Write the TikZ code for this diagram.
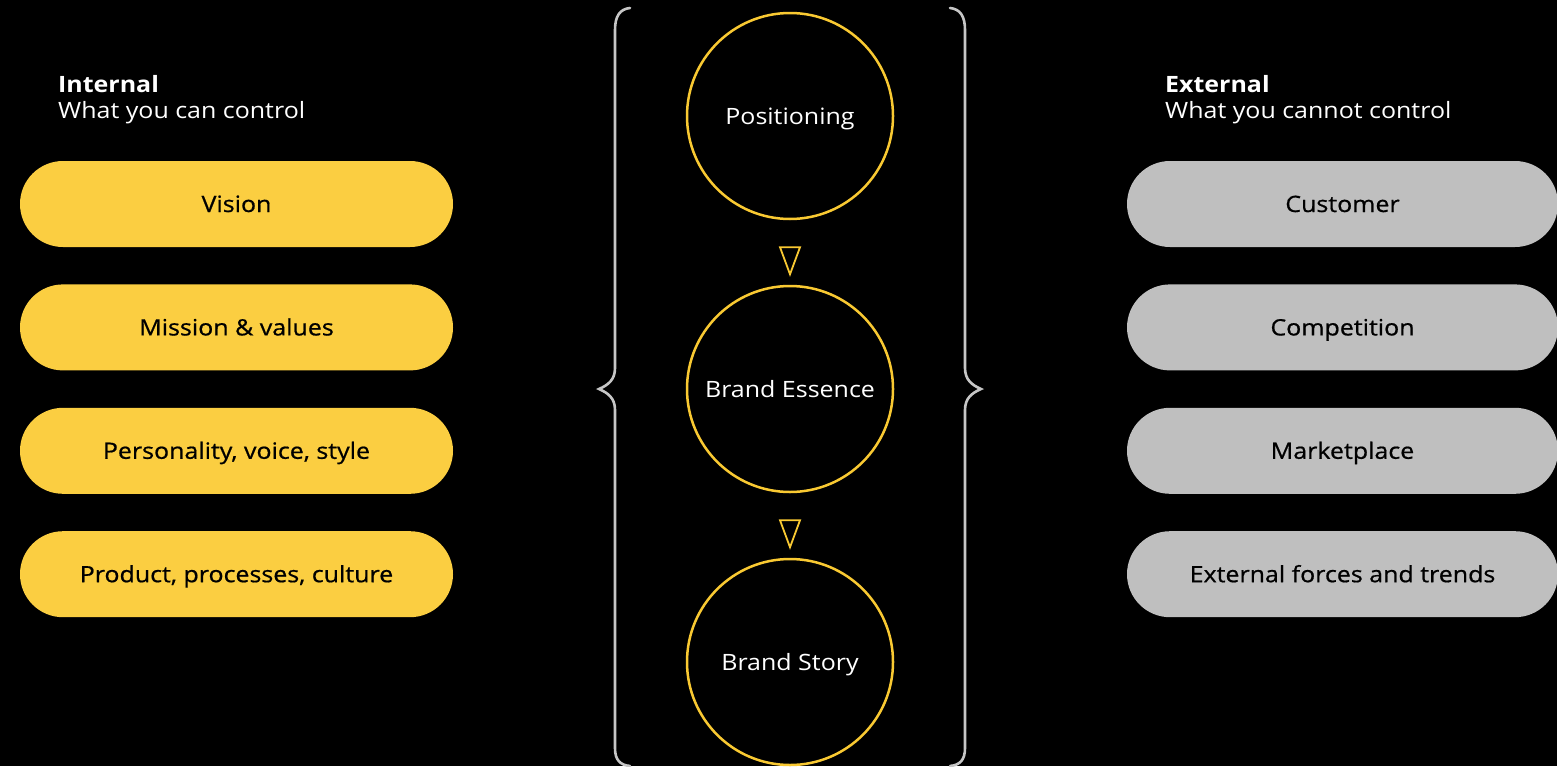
\documentclass[tikz,border=0pt]{standalone}
\usepackage{fontspec}
\setmainfont{Open Sans}[FakeStretch=1.11]
\newfontfamily\pillfont{Open Sans}[FakeStretch=1.11, FakeBold=0.7]
\usetikzlibrary{positioning, calc, shapes}
\definecolor{pillyellow}{HTML}{FBCE41}
\definecolor{pillgray}{HTML}{BFBFBF}
\definecolor{ringyellow}{HTML}{F9C932}
\definecolor{bracegray}{HTML}{C6C6C6}
\tikzset{
    int_pill/.style={rectangle, rounded corners=43pt, minimum width=433pt, minimum height=86pt, fill=pillyellow, text=black, text centered, text height=16pt, text depth=0pt, inner sep=0pt, font=\pillfont\fontsize{22.5}{26}\selectfont},
    ext_pill/.style={int_pill, minimum width=431pt, fill=pillgray},
    ring/.style={circle, draw=ringyellow, line width=2.5pt, minimum size=206pt, text=white, text centered, text height=16pt, text depth=0pt, inner sep=0pt},
    head_text/.style={anchor=north west, align=left, text=white, inner sep=0pt},
    tri/.style={draw=ringyellow, line width=1.8pt, line join=miter},
    brace/.style={draw=bracegray, line width=2.6pt, line cap=round},
}
\begin{document}
\begin{tikzpicture}[x=1pt, y=1pt, node distance=37pt, font=\fontsize{22.5}{26}\selectfont]
      \fill[black] (0,0) rectangle (1557,-766);
      \useasboundingbox (0,0) rectangle (1557,-766);

      % internal side
      \node (internal) [head_text] at (58,-75) {\textbf{Internal}\\What you can control};
      \node (vision) [int_pill] at (236.5,-204) {Vision};
      \node (mission) [int_pill, below = of vision] {Mission \& values};
      \node (personality) [int_pill, below = of mission] {Personality, voice, style};
      \node (product) [int_pill, below = of personality] {Product, processes, culture};

      % external side
      \node (external) [head_text] at (1165,-75) {\textbf{External}\\What you cannot control};
      \node (customer) [ext_pill] at (1342.5,-204) {Customer};
      \node (competition) [ext_pill, below = of customer] {Competition};
      \node (marketplace) [ext_pill, below = of competition] {Marketplace};
      \node (forces) [ext_pill, below = of marketplace] {External forces and trends};

      % brand core
      \node (positioning) [ring] at (790,-116) {Positioning};
      \node (essence) [ring, below = 64.5pt of positioning] {Brand Essence};
      \node (story) [ring, below = 64.5pt of essence] {Brand Story};

      \draw [tri] ($(positioning.south)+(-10,-27)$) -- ++(20,0) -- ++(-10,-27) -- cycle;
      \draw [tri] ($(essence.south)+(-10,-27)$) -- ++(20,0) -- ++(-10,-27) -- cycle;

      \draw [brace] (630,-8) .. controls (620,-9) and (615,-16) .. (615,-30)
            -- (615,-368) .. controls (615,-380) and (608,-385) .. (599,-389)
            .. controls (608,-393) and (615,-398) .. (615,-410)
            -- (615,-748) .. controls (615,-760) and (620,-765) .. (630,-766);
      \draw [brace] (950,-8) .. controls (960,-9) and (965,-16) .. (965,-30)
            -- (965,-368) .. controls (965,-380) and (972,-385) .. (981,-389)
            .. controls (972,-393) and (965,-398) .. (965,-410)
            -- (965,-748) .. controls (965,-760) and (960,-765) .. (950,-766);
   \end{tikzpicture}
\end{document}
